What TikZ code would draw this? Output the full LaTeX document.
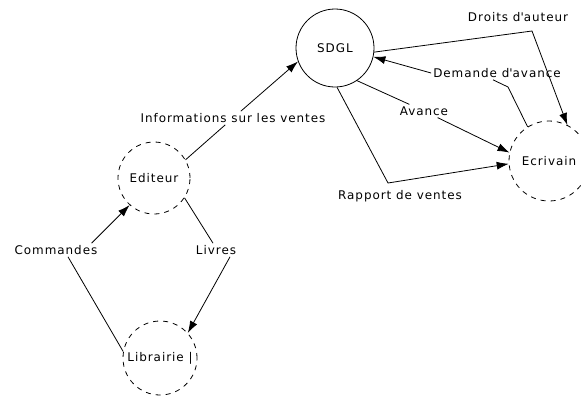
\documentclass[tikz,border=0pt]{standalone}
\usepackage{fontspec}
\setmainfont{DejaVu Sans}[LetterSpace=8]
\usetikzlibrary{positioning,arrows.meta}
\tikzset{
  df/.style={font=\fontsize{12}{14}\selectfont, text=black},
  dfproc/.style={df, draw, circle, line width=0.8bp, minimum size=78bp, inner sep=0pt},
  dfext/.style={dfproc, dash pattern=on 5bp off 5bp},
  dfarr/.style={-{Latex[length=12bp,width=8bp]}, line width=0.8bp},
  dfline/.style={line width=0.8bp},
  dflbl/.style={df, inner sep=2bp},
}
\begin{document}
\begin{tikzpicture}[x=1bp,y=-1bp,df]
  \useasboundingbox (0,0) rectangle (581,397);
  \node[dfproc] (sdgl) at (335,48) {SDGL};
  \node[dfext, minimum size=80bp] (ecrivain) at (549,161) {Ecrivain};
  \node[dfext, minimum size=72bp] (editeur) at (154,178) {Editeur};
  \node[dfext, minimum size=74bp] (librairie) at (160,358) {Librairie |};

  \node[dflbl] (lbldroits) at (518,17) {Droits d\textquotesingle auteur};
  \node[dflbl] (lbldemande) at (497,73) {Demande d\textquotesingle avance};
  \node[dflbl] (lblavance) at (424,111) {Avance};
  \node[dflbl] (lblrapport) at (400,196) {Rapport de ventes};
  \node[dflbl] (lblinfo) at (233,118) {Informations sur les ventes};
  \node[dflbl] (lblcmd) at (56,250) {Commandes};
  \node[dflbl] (lbllivres) at (216,250) {Livres};

  \coordinate (kdroits) at (532,31);
  \coordinate (kdemande) at (508,87);
  \coordinate (krapport) at (388,183);

  \draw[dfarr] (sdgl.-6) -- (kdroits) -- (ecrivain.63);
  \draw[dfline] (ecrivain.122) -- (kdemande) -- ([xshift=-4bp]lbldemande.south);
  \draw[dfarr] (lbldemande.west) -- (sdgl.-13);
  \draw[dfarr] (sdgl.-56) -- (lblavance) -- (ecrivain.168);
  \draw[dfarr] (sdgl.-87) -- (krapport) -- (ecrivain.184);
  \draw[dfarr] (editeur.30) -- (lblinfo) -- (sdgl.200);
  \draw[dfarr] (librairie.170) -- ([xshift=12bp]lblcmd.south)
    ([xshift=-8bp]lblcmd.north east) -- (editeur.228);
  \draw[dfarr] (editeur.-33) -- ([xshift=-3bp]lbllivres.north)
    ([xshift=14bp]lbllivres.south) -- (librairie.42);
\end{tikzpicture}
\end{document}
